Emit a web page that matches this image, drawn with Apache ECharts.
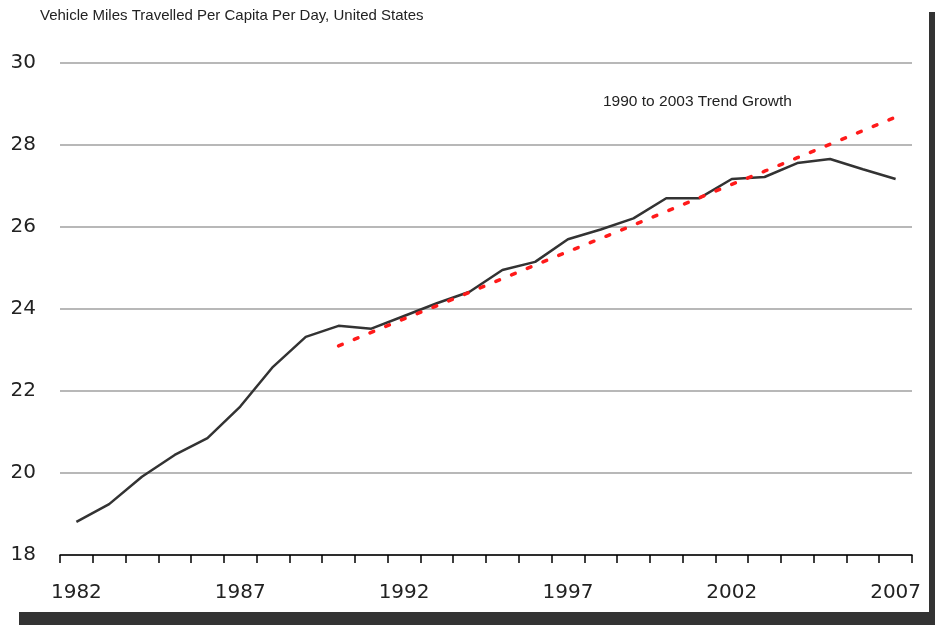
<!DOCTYPE html>
<html>
<head>
<meta charset="utf-8">
<script src="https://cdn.jsdelivr.net/npm/echarts@6/dist/echarts.min.js"></script>
<style>
html,body{margin:0;padding:0;background:#fff;}
#chart{width:935px;height:625px;}
</style>
</head>
<body>
<div id="chart"></div>
<script>
const years = ['1982','1983','1984','1985','1986','1987','1988','1989','1990','1991','1992','1993','1994','1995','1996','1997','1998','1999','2000','2001','2002','2003','2004','2005','2006','2007'];
const vmtPerCapita = [18.81,19.24,19.91,20.44,20.85,21.62,22.59,23.32,23.59,23.52,23.83,24.14,24.42,24.95,25.15,25.70,25.94,26.21,26.70,26.70,27.17,27.22,27.56,27.66,27.41,27.17];
const trendGrowth = ['-','-','-','-','-','-','-','-',23.10,23.43,23.76,24.08,24.41,24.74,25.07,25.40,25.72,26.05,26.38,26.71,27.04,27.36,27.69,28.02,28.35,28.68];
const yTicks = [18,20,22,24,26,28,30];
const titleText = 'Vehicle Miles Travelled Per Capita Per Day, United States';
const trendLabel = '1990 to 2003 Trend Growth';

const chart = echarts.init(document.getElementById('chart'), null, {renderer:'canvas'});
const labelFont = 'DejaVu Sans, Liberation Sans, Arial, sans-serif';
chart.setOption({
  animation:false,
  backgroundColor:'#fff',
  title:{
    text:titleText,
    left:35, top:3,
    textStyle:{fontFamily:'Liberation Sans, Arial, sans-serif', fontSize:15, fontWeight:'normal', color:'#222'}
  },
  grid:{left:60, right:23, top:63, bottom:70},
  xAxis:{
    type:'category',
    data:years,
    boundaryGap:true,
    axisLine:{lineStyle:{color:'#000', width:1.5}},
    axisTick:{show:true, interval:0, length:8, lineStyle:{color:'#000', width:1.5}},
    axisLabel:{interval:4, margin:28, color:'#222', fontSize:20, fontFamily:labelFont},
    splitLine:{show:false}
  },
  yAxis:{
    type:'value',
    min:yTicks[0], max:yTicks[yTicks.length-1], interval:2,
    axisLine:{show:false},
    axisTick:{show:false},
    axisLabel:{margin:24, color:'#222', fontSize:20, fontFamily:labelFont},
    splitLine:{lineStyle:{color:'#a0a0a0', width:1.5}}
  },
  series:[
    {
      type:'line', data:vmtPerCapita, symbol:'none',
      lineStyle:{color:'#333', width:2.5}, z:3
    },
    {
      type:'line', data:trendGrowth, symbol:'none',
      lineStyle:{color:'#ff1a1a', width:3.5, type:[4,13], cap:'round'}, z:4
    }
  ],
  graphic:[
    {type:'text', left:603, top:94, style:{text:trendLabel, font:'15.5px Liberation Sans, Arial, sans-serif', fill:'#222'}},
    {type:'rect', left:19, top:612, shape:{width:916, height:13}, style:{fill:'#333'}},
    {type:'rect', left:929, top:12, shape:{width:6, height:613}, style:{fill:'#333'}}
  ]
});
</script>
</body>
</html>
